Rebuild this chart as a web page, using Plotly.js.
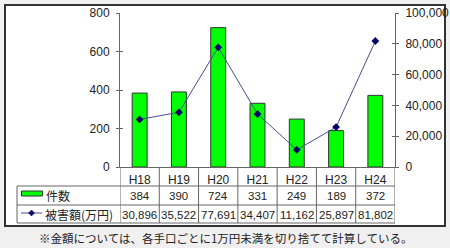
<!DOCTYPE html>
<html><head><meta charset="utf-8">
<script src="https://cdn.plot.ly/plotly-3.0.1.min.js"></script>
<style>html,body{margin:0;padding:0;background:#f0f0f0;}#chart{width:450px;height:248px;}</style>
</head><body><div id="chart"></div>
<script>
const categories = ['H18','H19','H20','H21','H22','H23','H24'];
const caseCounts = [384, 390, 724, 331, 249, 189, 372];
const damageAmounts = [30896, 35522, 77691, 34407, 11162, 25897, 81802];
const rowLabels = ['件数', '被害額(万円)'];
const leftTicks = [0, 200, 400, 600, 800];
const rightTicks = [0, 20000, 40000, 60000, 80000, 100000];
const note = '※金額については、各手口ごとに1万円未満を切り捨てて計算している。';

const W = 450, H = 248, L = 120, R = 55, T = 13, B = 81;
const pw = W - L - R, ph = H - T - B;
const px = v => (v - L) / pw;
const py = v => (H - B - v) / ph;
const FONT = 'Liberation Sans, Arial, Noto Sans CJK JP, sans-serif';
const TXT = '#222';
const LINE = '#666';

const traces = [
  {type:'bar', x:categories, y:caseCounts, yaxis:'y', xaxis:'x',
   marker:{color:'#00ff00', line:{color:'#333', width:1}}, hoverinfo:'skip'},
  {type:'scatter', mode:'lines+markers', x:categories, y:damageAmounts, yaxis:'y2', xaxis:'x',
   line:{color:'#4b4b8f', width:1}, marker:{symbol:'diamond', size:6, color:'#000066'}, hoverinfo:'skip'}
];

const shapes = [];
// outer white box
shapes.push({type:'rect', xref:'paper', yref:'paper', x0:px(5), x1:px(445), y0:py(5), y1:py(226),
  fillcolor:'#ffffff', line:{color:'#333', width:2}, layer:'below'});
// table grid
const yRows = [py(186), py(205), py(223)];
yRows.forEach(y => shapes.push({type:'line', xref:'paper', yref:'paper', x0:px(17), x1:px(395), y0:y, y1:y, line:{color:LINE, width:1}}));
shapes.push({type:'line', xref:'paper', yref:'paper', x0:px(17), x1:px(17), y0:py(186), y1:py(223), line:{color:LINE, width:1}});
for (let i = 0; i <= categories.length; i++) {
  shapes.push({type:'line', xref:'x', yref:'paper', x0:i-0.5, x1:i-0.5, y0:0, y1:py(223), line:{color:LINE, width:1}});
}
// legend keys
shapes.push({type:'rect', xref:'paper', yref:'paper', x0:px(21.5), x1:px(42.5), y0:py(191), y1:py(196),
  fillcolor:'#00ff00', line:{color:'#333', width:1}});
shapes.push({type:'line', xref:'paper', yref:'paper', x0:px(21), x1:px(42), y0:py(213), y1:py(213),
  line:{color:'#4b4b8f', width:1}});
const dc = [31.5, 213];
shapes.push({type:'path', xref:'paper', yref:'paper',
  path:`M ${px(dc[0]-3)} ${py(dc[1])} L ${px(dc[0])} ${py(dc[1]-3)} L ${px(dc[0]+3)} ${py(dc[1])} L ${px(dc[0])} ${py(dc[1]+3)} Z`,
  fillcolor:'#000066', line:{color:'#000066', width:0.5}});

const annotations = [];
annotations.push({xref:'paper', yref:'paper', x:px(44), y:py(195.5), text:rowLabels[0], showarrow:false,
  xanchor:'left', yanchor:'middle', font:{family:'Noto Sans CJK JP', size:12, color:TXT}});
annotations.push({xref:'paper', yref:'paper', x:px(43), y:py(214.5), text:rowLabels[1], showarrow:false,
  xanchor:'left', yanchor:'middle', font:{family:'Noto Sans CJK JP', size:12, color:TXT}});
categories.forEach((c, i) => {
  annotations.push({xref:'x', yref:'paper', x:i, y:py(196), text:String(caseCounts[i]), showarrow:false,
    yanchor:'middle', font:{family:FONT, size:11.5, color:TXT}});
  annotations.push({xref:'x', yref:'paper', x:i, y:py(214.5), text:damageAmounts[i].toLocaleString('en-US'), showarrow:false,
    yanchor:'middle', font:{family:FONT, size:11.5, color:TXT}});
});
annotations.push({xref:'paper', yref:'paper', x:px(225), y:py(238), text:note, showarrow:false,
  xanchor:'center', yanchor:'middle', font:{family:'Noto Sans CJK JP', size:11.5, color:TXT}});

const axisCommon = {showgrid:false, zeroline:false, showline:true, linecolor:LINE, linewidth:1,
  tickcolor:LINE, ticklen:3, tickwidth:1, tickfont:{family:FONT, size:12, color:TXT}, fixedrange:true};

const layout = {
  width:W, height:H, margin:{l:L, r:R, t:T, b:B},
  paper_bgcolor:'#f0f0f0', plot_bgcolor:'rgba(0,0,0,0)',
  showlegend:false, bargap:0.62, hovermode:false,
  xaxis:{type:'category', range:[-0.5, categories.length-0.5], showgrid:false, zeroline:false,
    showline:true, linecolor:LINE, ticks:'', ticklabelstandoff:2, tickfont:{family:FONT, size:12, color:TXT}, fixedrange:true},
  yaxis:Object.assign({}, axisCommon, {range:[0,800], tickvals:leftTicks, ticks:'outside', side:'left', ticklabelstandoff:4}),
  yaxis2:Object.assign({}, axisCommon, {range:[0,100000], tickvals:rightTicks, tickformat:',', ticks:'outside',
    side:'right', overlaying:'y', ticklabelstandoff:4}),
  yaxis3:Object.assign({}, axisCommon, {range:[0,800], tickvals:leftTicks, ticks:'inside', showticklabels:false, overlaying:'y', side:'left'}),
  yaxis4:Object.assign({}, axisCommon, {range:[0,100000], tickvals:rightTicks, ticks:'inside', showticklabels:false, overlaying:'y', side:'right'}),
  shapes:shapes, annotations:annotations
};
traces.push({type:'scatter', x:[], y:[], yaxis:'y3', xaxis:'x', hoverinfo:'skip'});
traces.push({type:'scatter', x:[], y:[], yaxis:'y4', xaxis:'x', hoverinfo:'skip'});

Plotly.newPlot('chart', traces, layout, {displayModeBar:false, staticPlot:true});
</script></body></html>
